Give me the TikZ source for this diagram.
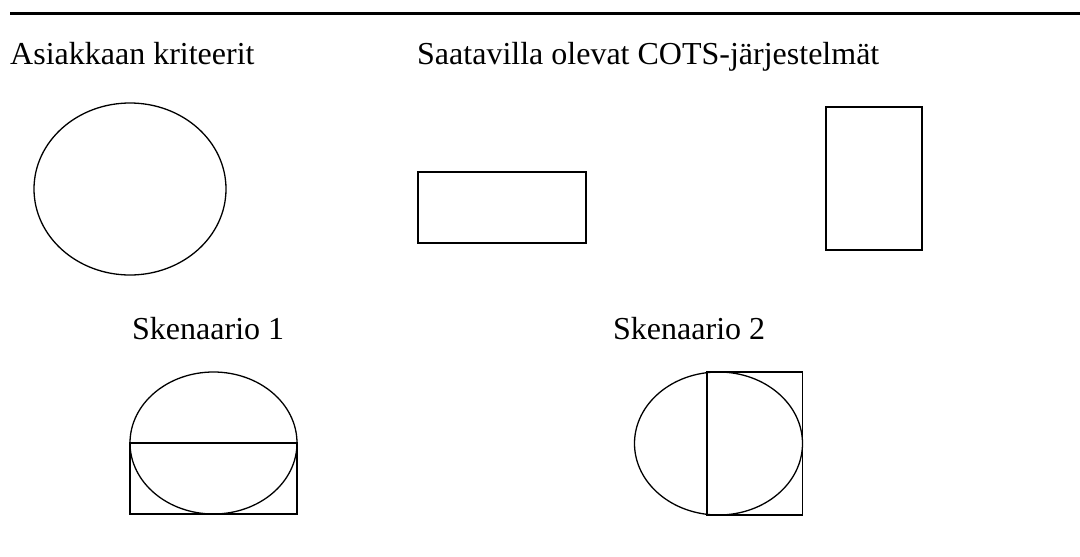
\documentclass[tikz,border=0pt]{standalone}
\usepackage{fontspec}
\setmainfont{Liberation Serif}
\begin{document}
\begin{tikzpicture}[x=1pt,y=-1pt,
  shp/.style={draw=black,line width=1.3pt},
  lbl/.style={anchor=base west,inner sep=0pt,font=\fontsize{32}{34}\selectfont}]
\useasboundingbox (0,0) rectangle (1080,557);
\coordinate (ls) at (10,13.5);
\coordinate (le) at (1080,13.5);
\draw[line width=2.4pt] (ls) -- (le);
\node[lbl] (t1) at (10,64) {Asiakkaan kriteerit};
\node[lbl] (t2) at (417,64) {Saatavilla olevat COTS-järjestelmät};
\draw[shp] (130,189) ellipse [x radius=96, y radius=86];
\draw[shp] (418,172) rectangle (586,243);
\draw[shp] (826,107) rectangle (922,250);
\node[lbl] (s1) at (132,339) {Skenaario 1};
\node[lbl] (s2) at (613,339) {Skenaario 2};
% scenario 1
\draw[shp] (213.5,443) ellipse [x radius=83.5, y radius=71];
\draw[shp] (130,443) rectangle (297,514);
% scenario 2
\draw[shp] (718.5,443.5) ellipse [x radius=84, y radius=71.5];
\draw[shp] (707,372) rectangle (802.5,515);
\end{tikzpicture}
\end{document}
